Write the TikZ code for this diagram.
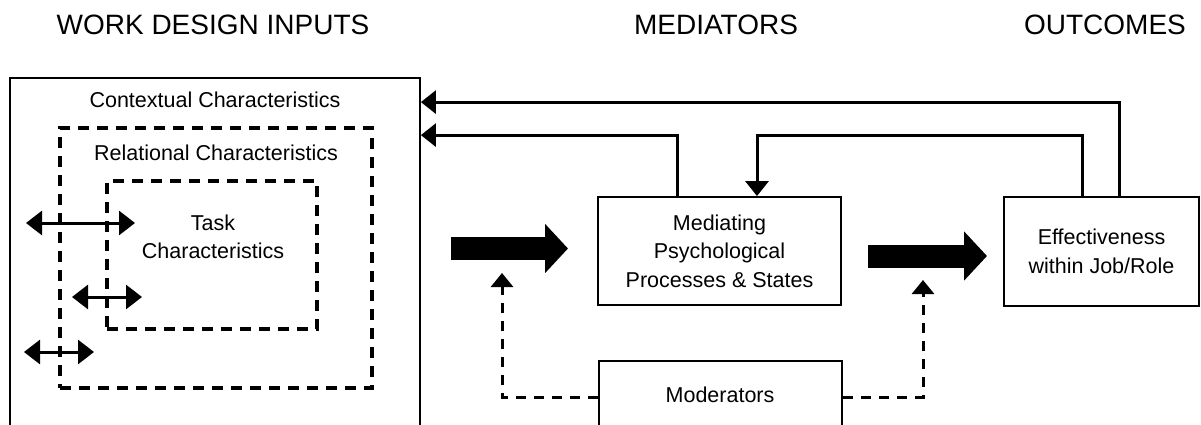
\documentclass[tikz,border=0pt]{standalone}
\usepackage{fontspec}
\setmainfont{Liberation Sans}
\usetikzlibrary{arrows.meta}
\begin{document}
\begin{tikzpicture}[x=1pt,y=-1pt,
		font=\fontsize{21.5}{28.5}\selectfont,
		head/.style={font=\fontsize{28}{32}\selectfont},
		solidbox/.style={draw,line width=1.8pt,inner sep=0pt,align=center},
		dashbox/.style={draw,line width=3.5pt,dash pattern=on 11pt off 8pt,inner sep=0pt},
		fb/.style={-{Triangle[length=15pt,width=23pt]},line width=3pt},
		twoway/.style={{Triangle[length=16pt,width=24pt]}-{Triangle[length=16pt,width=24pt]},line width=3pt},
		modarrow/.style={-{Triangle[length=14pt,width=22pt]},line width=3pt,dash pattern=on 10pt off 8pt},
		bigarrow/.style={-{Triangle[length=23pt,width=48pt]},line width=23pt}]
	\useasboundingbox (0,0) rectangle (1201,425);
	\clip (0,0) rectangle (1201,425);
	% column headings
	\node[head] (hin) at (213,25) {WORK DESIGN INPUTS};
	\node[head] (hmed) at (716,25) {MEDIATORS};
	\node[head] (hout) at (1105,25) {OUTCOMES};
	% nested characteristics
	\node[solidbox,minimum width=410,minimum height=400] (ctx) at (215,278) {};
	\node (ctxtxt) at (215,100) {Contextual Characteristics};
	\node[dashbox,minimum width=312,minimum height=260] (rel) at (216,258) {};
	\node (reltxt) at (216,153) {Relational Characteristics};
	\node[dashbox,minimum width=210,minimum height=148] (task) at (212,255) {};
	\node[align=center] (tasktxt) at (213,237) {Task\\Characteristics};
	\foreach \xa/\xb/\yy in {26/135/223, 72/142/297, 24/94/352}
		\draw[twoway] (\xa,\yy) -- (\xb,\yy);
	% mediators and outcomes
	\node[solidbox,minimum width=243,minimum height=108] (med) at (719.5,251) {Mediating\\Psychological\\Processes \& States};
	\node[solidbox,minimum width=195,minimum height=109] (eff) at (1101.5,251.5) {Effectiveness\\within Job/Role};
	\node[solidbox,minimum width=243,minimum height=120] (mod) at (720.5,421) {};
	\node (modtxt) at (720,395) {Moderators};
	\coordinate (in1) at (451,248.5);
	\coordinate (out1) at (568,248.5);
	\coordinate (in2) at (868,256);
	\coordinate (out2) at (987,256);
	\draw[bigarrow] (in1) -- (out1);
	\draw[bigarrow] (in2) -- (out2);
	% feedback loops
	\draw[fb] ([xshift=17.5pt]eff.north) |- ([yshift=-25pt]ctx.north east);
	\draw[fb] ([xshift=-42.5pt]med.north) |- ([yshift=-58pt]ctx.north east);
	\draw[fb] ([xshift=-19.5pt]eff.north) -- ++(0,-61) -| ([xshift=37.5pt]med.north);
	% moderating effects
	\coordinate (modL) at (502,273);
	\coordinate (modR) at (923,280);
	\draw[modarrow] (mod.west |- 0,397) -| (modL);
	\draw[modarrow] (mod.east |- 0,397) -| (modR);
\end{tikzpicture}
\end{document}
